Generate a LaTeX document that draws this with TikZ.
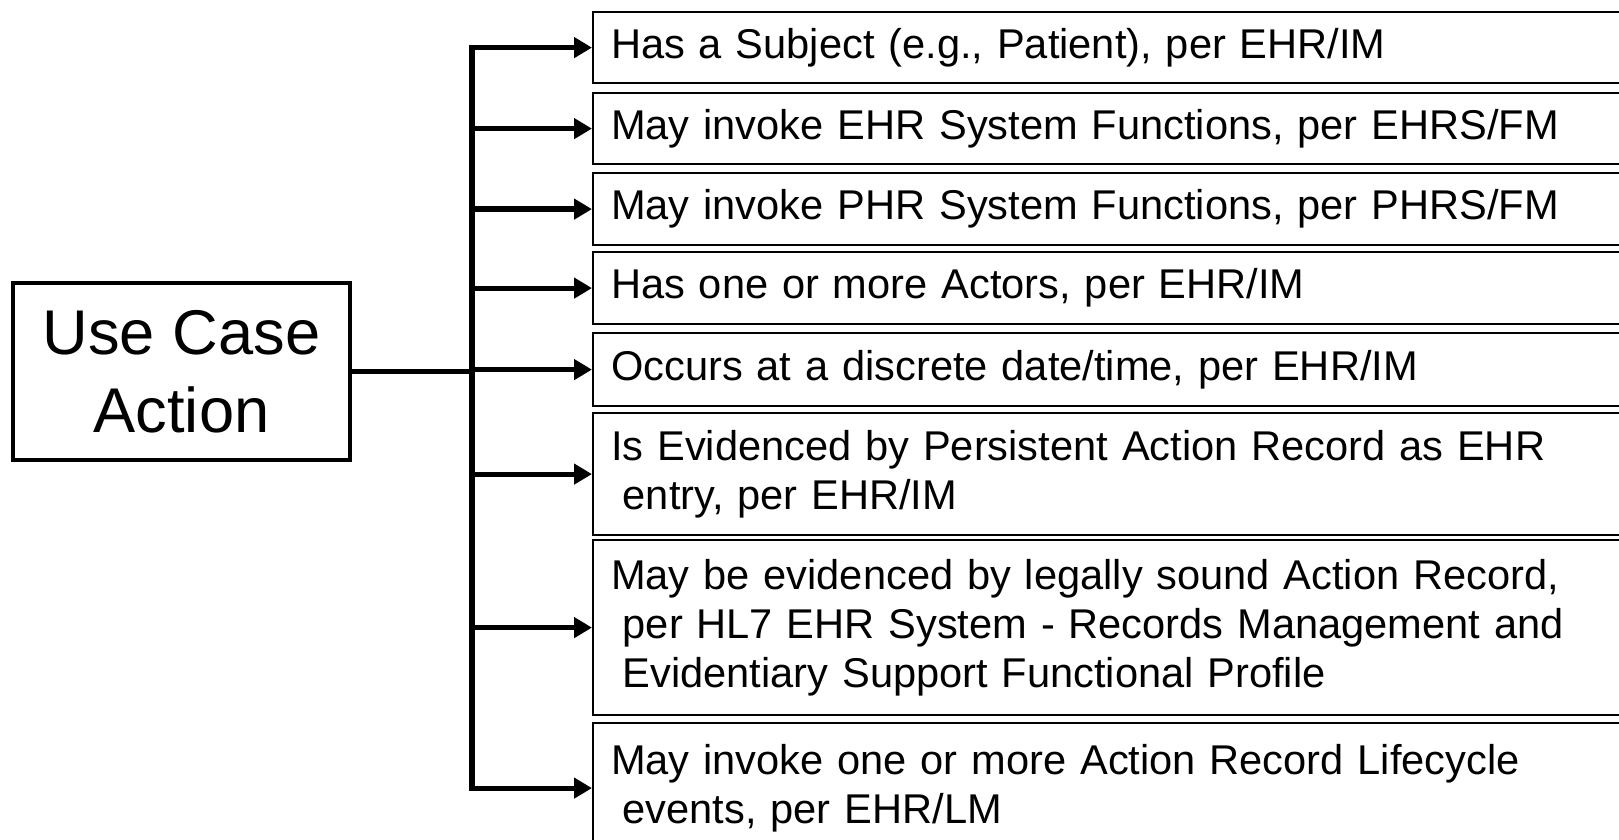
\documentclass[tikz,border=0pt]{standalone}
\usepackage{fontspec}
\setmainfont{Liberation Sans}
\usepackage{tikz}
\usetikzlibrary{arrows.meta,calc}

\begin{document}
\begin{tikzpicture}
[x = 0.5pt, y = -0.5pt]
\tikzset{
	action node/.style = {rectangle, draw, line width = 2.3pt, minimum width = 168.5pt, minimum height = 88.5pt, align = center, font = \fontsize{31.6}{39}\selectfont},
	item node/.style = {rectangle, draw, line width = 1.1pt, anchor = north west, minimum width = 519pt, text width = 501pt, inner xsep = 9pt, align = left, font = \fontsize{20.8}{24.5}\selectfont},
	trunk line/.style = {line width = 2.7pt, line cap = rect},
	item arrow/.style = {line width = 2.6pt, -{Triangle[length = 9pt, width = 10pt]}},
}
\useasboundingbox (0,0) rectangle (1619,840);

\node(uca)[action node] at (181.5,371.5) {Use Case\\Action};

\node(b1)[item node, minimum height = 35.5pt] at (592,11) {Has a Subject (e.g., Patient), per EHR/IM};
\node(b2)[item node, minimum height = 35.5pt] at (592,92) {May invoke EHR System Functions, per EHRS/FM};
\node(b3)[item node, minimum height = 36pt] at (592,172) {May invoke PHR System Functions, per PHRS/FM};
\node(b4)[item node, minimum height = 36pt] at (592,251) {Has one or more Actors, per EHR/IM};
\node(b5)[item node, minimum height = 36.5pt] at (592,332) {Occurs at a discrete date/time, per EHR/IM};
\node(b6)[item node, minimum height = 61pt] at (592,412) {Is Evidenced by Persistent Action Record as EHR\\\hspace*{.28em}entry, per EHR/IM};
\node(b7)[item node, minimum height = 87.5pt] at (592,539) {May be evidenced by legally sound Action Record,\\\hspace*{.28em}per HL7 EHR System - Records Management and\\\hspace*{.28em}Evidentiary Support Functional Profile};
\node(b8)[item node, minimum height = 65pt] at (592,722) {May invoke one or more Action Record Lifecycle\\\hspace*{.28em}events, per EHR/LM};

\coordinate(bus) at (472,371.5);
\draw [trunk line] (uca.east) -- (bus);
\draw [trunk line] (bus |- b1.west) -- (bus |- b8.west);
\draw [item arrow] (bus |- b1.west) -- (b1.west);
\draw [item arrow] (bus |- b2.west) -- (b2.west);
\draw [item arrow] (bus |- b3.west) -- (b3.west);
\draw [item arrow] (bus |- b4.west) -- (b4.west);
\draw [item arrow] (bus |- b5.west) -- (b5.west);
\draw [item arrow] (bus |- b6.west) -- (b6.west);
\draw [item arrow] (bus |- b7.west) -- (b7.west);
\draw [item arrow] (bus |- b8.west) -- (b8.west);

\end{tikzpicture}
\end{document}
